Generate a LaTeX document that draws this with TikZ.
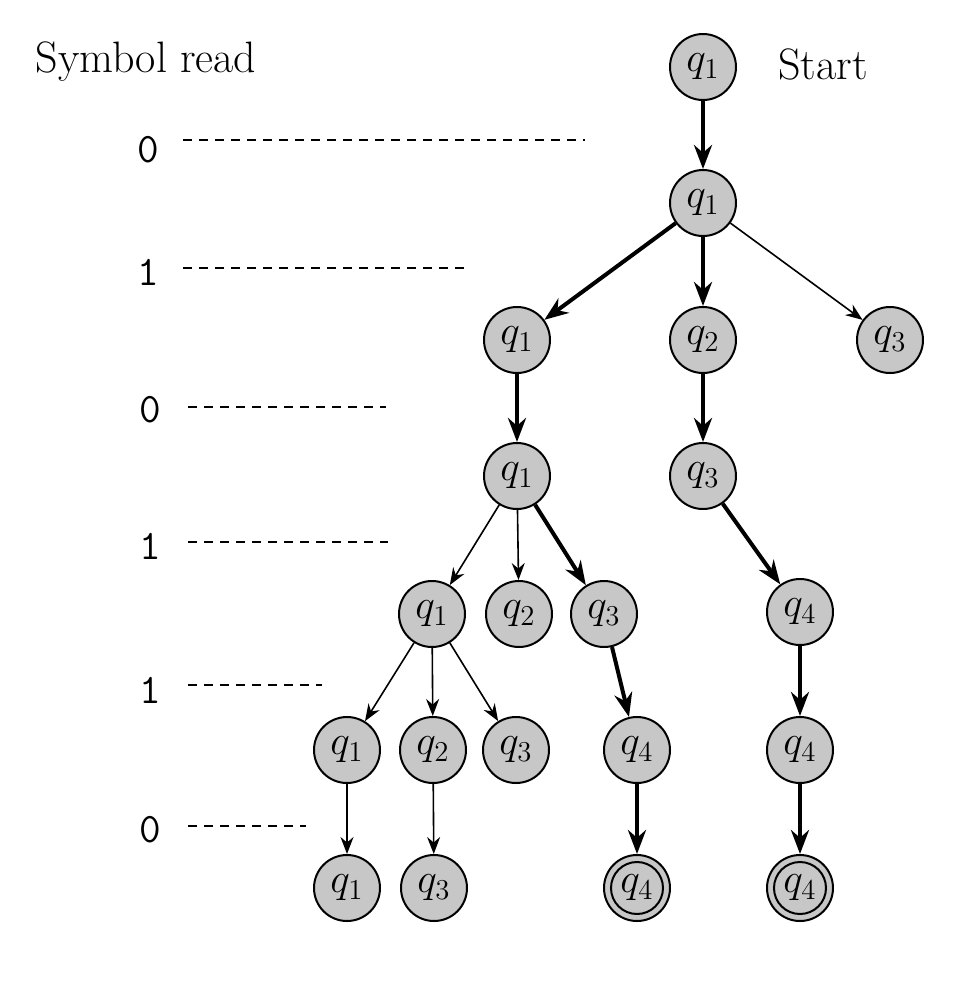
\documentclass[tikz,border=0pt]{standalone}
\usetikzlibrary{arrows.meta}
\begin{document}
\begin{tikzpicture}[x=0.5pt,y=-0.5pt,
  st/.style={circle,draw,line width=1pt,fill=black!22,minimum size=33pt,inner sep=0pt,font=\fontsize{20}{24}\selectfont},
  tk/.style={-{Stealth[length=12pt,width=9pt]},line width=2pt},
  tn/.style={-{Stealth[length=8.5pt,width=6.5pt]},line width=0.8pt},
  dl/.style={dash pattern=on 4.5pt off 3.5pt,line width=0.9pt},
  lbl/.style={font=\ttfamily\fontsize{21}{24}\selectfont,inner sep=0pt},
  txt/.style={font=\fontsize{22}{26}\selectfont,inner sep=0pt}]
\useasboundingbox (0,0) rectangle (979,998);
% titles
\node[txt] (sym) at (146,62) {Symbol read};
\node[txt] (start) at (823,64) {Start};
% symbol labels and dashed guides
\node[lbl] (s1) at (148,150) {0};
\coordinate (s1a) at (183,140); \coordinate (s1b) at (585,140);
\node[lbl] (s2) at (148,272) {1};
\coordinate (s2a) at (183,268); \coordinate (s2b) at (470,268);
\node[lbl] (s3) at (150,410) {0};
\coordinate (s3a) at (188,407); \coordinate (s3b) at (386,407);
\node[lbl] (s4) at (150,546) {1};
\coordinate (s4a) at (188,542); \coordinate (s4b) at (388,542);
\node[lbl] (s5) at (150,690) {1};
\coordinate (s5a) at (188,685); \coordinate (s5b) at (322,685);
\node[lbl] (s6) at (150,830) {0};
\coordinate (s6a) at (188,826); \coordinate (s6b) at (306,826);
\foreach \a/\b in {s1a/s1b,s2a/s2b,s3a/s3b,s4a/s4b,s5a/s5b,s6a/s6b}
  \draw[dl] (\a) -- (\b);
% states
\node[st] (A) at (703,67) {$q_1$};
\node[st] (B) at (703,203) {$q_1$};
\node[st] (C) at (517,340) {$q_1$};
\node[st] (D) at (703,340) {$q_2$};
\node[st] (E) at (890,340) {$q_3$};
\node[st] (F) at (517,476) {$q_1$};
\node[st] (G) at (703,476) {$q_3$};
\node[st] (H) at (432,614) {$q_1$};
\node[st] (I) at (519,614) {$q_2$};
\node[st] (J) at (604,614) {$q_3$};
\node[st] (K) at (800,612) {$q_4$};
\node[st] (L) at (347,750) {$q_1$};
\node[st] (M) at (433,750) {$q_2$};
\node[st] (N) at (516,750) {$q_3$};
\node[st] (O) at (637,750) {$q_4$};
\node[st] (P) at (800,750) {$q_4$};
\node[st] (Q) at (347,888) {$q_1$};
\node[st] (R) at (434,888) {$q_3$};
\node[st] (S) at (637,888) {$q_4$};
\node[st] (T) at (800,888) {$q_4$};
\draw[line width=1pt] (S.center) circle (13pt);
\draw[line width=1pt] (T.center) circle (13pt);
% transitions
\draw[tk] (A) -- (B);
\draw[tk] (B) -- (C);
\draw[tk] (B) -- (D);
\draw[tn] (B) -- (E);
\draw[tk] (C) -- (F);
\draw[tk] (D) -- (G);
\draw[tn] (F) -- (H);
\draw[tn] (F) -- (I);
\draw[tk] (F) -- (J);
\draw[tk] (G) -- (K);
\draw[tn] (H) -- (L);
\draw[tn] (H) -- (M);
\draw[tn] (H) -- (N);
\draw[tk] (J) -- (O);
\draw[tk] (K) -- (P);
\draw[tn] (L) -- (Q);
\draw[tn] (M) -- (R);
\draw[tk] (O) -- (S);
\draw[tk] (P) -- (T);
\end{tikzpicture}
\end{document}
